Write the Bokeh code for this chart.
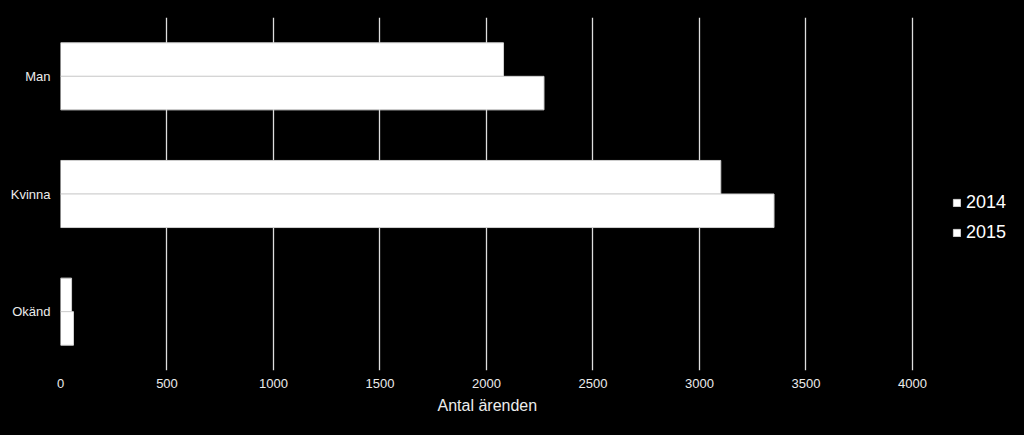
from bokeh.plotting import figure
from bokeh.models import FactorRange, Range1d, FixedTicker, Legend, LegendItem, ColumnDataSource, Title
from bokeh.transform import dodge
from bokeh.embed import file_html
from bokeh.resources import INLINE

categories = ["Man", "Kvinna", "Okänd"]
series_names = ["2014", "2015"]
values_2014 = [2080, 3100, 52]
values_2015 = [2270, 3350, 61]
x_ticks = [0, 500, 1000, 1500, 2000, 2500, 3000, 3500, 4000]
x_title = "Antal ärenden"

FONT = "Liberation Sans"
TXT = "#ececec"

src = ColumnDataSource(dict(cat=categories, v2014=values_2014, v2015=values_2015))

p = figure(
    width=1024, height=435,
    y_range=FactorRange(factors=list(reversed(categories))),
    x_range=Range1d(0, 4526),
    output_backend="svg", toolbar_location=None,
    background_fill_color="black", border_fill_color="black",
    outline_line_color=None,
    min_border_left=60, min_border_right=0, min_border_top=17, min_border_bottom=65,
)

bh = 0.285
r1 = p.hbar(y=dodge("cat", bh / 2, range=p.y_range), right="v2014", left=0, height=bh,
            source=src, fill_color="white", line_color="#d0d0d0", line_width=1)
r2 = p.hbar(y=dodge("cat", -bh / 2, range=p.y_range), right="v2015", left=0, height=bh,
            source=src, fill_color="white", line_color="#d0d0d0", line_width=1)

p.xaxis.ticker = FixedTicker(ticks=x_ticks)
for ax in (p.xaxis[0], p.yaxis[0]):
    ax.axis_line_color = None
    ax.major_tick_line_color = None
    ax.minor_tick_line_color = None
    ax.major_tick_in = 0
    ax.major_tick_out = 0
    ax.major_label_text_font = FONT
    ax.major_label_text_font_size = "13px"
    ax.major_label_text_color = TXT
p.xaxis.major_label_standoff = 8
p.yaxis.major_label_standoff = 10

# axis title, placed under the 0-4000 span
xt = Title(text=x_title, align="left", offset=377, standoff=9,
           text_font=FONT, text_font_size="16px", text_font_style="normal",
           text_color=TXT)
p.add_layout(xt, "below")

p.xgrid.grid_line_color = "#dedede"
p.xgrid.grid_line_width = 1.3
p.ygrid.grid_line_color = None

legend = Legend(
    items=[LegendItem(label=series_names[0], renderers=[r1]),
           LegendItem(label=series_names[1], renderers=[r2])],
    location=(892, 125),
    orientation="vertical",
    background_fill_alpha=0, border_line_color=None,
    padding=0, margin=0, spacing=4,
    glyph_width=9, glyph_height=9, label_height=26, label_standoff=5,
    label_text_font=FONT, label_text_font_size="18px", label_text_color="white",
)
p.add_layout(legend, "center")

html = file_html(p, INLINE)
html = html.replace("<head>", "<head><style>body{background:#000;}</style>", 1)
open("out.html", "w").write(html)
